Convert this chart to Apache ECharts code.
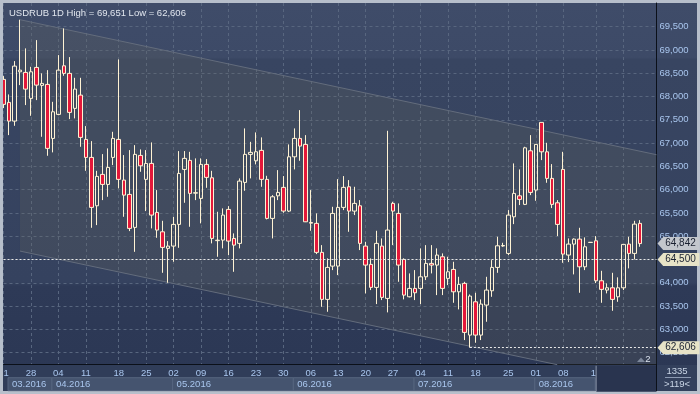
<!DOCTYPE html>
<html><head><meta charset="utf-8">
<script src="https://cdn.jsdelivr.net/npm/echarts@6/dist/echarts.min.js"></script>
<style>html,body{margin:0;padding:0;background:#b7bfcb}#c{width:700px;height:394px}</style>
</head><body><div id="c"></div>
<script>
// ---------- data ----------
const symbolName = 'USDRUB 1D';
const barCount = 120; // slots on the time axis (117 candles + right shift)
const bars = Array.from({length: barCount}, (_, i) => 'b' + i);

const opens = [68369,67875,67473,68532,68519,67961,68626,68240,68261,67101,67617,68661,68498,67746,68031,67080,66693,65654,66328,66113,
66693,67080,66206,65898,65190,66736,66221,66564,65512,65095,64739,64788,65254,66435,66629,65925,65812,66543,66255,64905,
64917,65576,64953,64846,66156,66758,66620,66844,66221,65383,65868,66049,65540,66706,67101,66972,65295,65276,64653,63643,
64358,64358,65619,66062,65540,65654,64788,64395,63901,64788,63664,65705,65490,64502,63699,63879,63879,64128,64416,64380,
64558,64094,64287,63806,63987,62876,63591,62876,63521,63828,64330,64790,64631,65417,65868,65684,66835,65991,67445,66813,
66242,65718,66435,64595,64831,64938,64343,64865,64902,64043,63843,63892,63699,63892,64831,64631,65276];
const closes = [67832,67473,68654,68568,68160,68532,68246,68283,66887,67673,68568,68498,67660,68160,67123,66693,65619,66285,66113,66478,
67101,66221,65883,65168,66758,66513,66564,65454,65132,64760,64788,65254,66349,66672,65920,65935,66543,66264,64953,64915,
65454,64895,64809,66184,66758,66801,66814,66221,65383,65847,65941,65540,66706,67101,66936,65310,65280,64653,63643,64330,
65490,65619,66049,65540,65705,64846,64380,63901,64846,63686,65132,65540,64380,63735,63879,63785,64128,64416,64380,64595,
63879,64236,63806,63965,62934,63714,62876,63542,63843,64330,64794,64800,65454,65920,65791,66899,65941,66972,66813,66242,
65684,65254,64616,64831,64938,64343,64773,64870,64043,63858,63892,63643,63892,64824,64631,65260,64842];
const lows = [67752,67172,67372,68246,67817,67587,67924,67136,66728,66801,67600,68446,67516,67531,66921,66405,65181,65239,65776,65847,
66528,66027,65417,65110,64665,66384,65540,65168,64966,64214,64000,64451,64751,65718,65203,65776,65276,66040,64846,64558,
64739,64595,64236,64739,65976,66242,66543,66062,65362,64953,65776,65503,65519,66435,66620,65304,65117,64616,63484,63377,
64272,64165,65561,65095,65454,64702,63772,63843,63542,63628,63364,64809,64021,63643,63686,63628,63542,64058,64201,63735,
63735,63950,63570,63428,62769,62606,62711,62769,63162,63699,64214,64773,64595,65260,65669,65669,65883,65761,66635,66148,
65604,65003,64429,64444,64180,63785,64272,64865,63993,63570,63772,63398,63591,63843,64309,64502,64773];
const highs = [68440,68046,68762,69651,69035,68639,69213,68498,68568,67887,68891,69464,68848,68403,68403,67366,67043,66405,66764,66887,
67243,68798,66743,66850,66957,66865,66850,67015,65991,65331,64895,65417,66829,66829,66813,66672,66672,66657,66405,65525,
65598,65647,65061,66242,67316,67028,67230,67123,66298,65883,66420,66292,66972,67316,67709,67172,65991,65490,64809,64524,
65632,66227,66292,66206,66062,65776,64880,64524,65117,64953,67265,65740,65705,64524,64201,64272,64739,64809,64809,64739,
64631,64558,64451,64128,64021,63750,63785,63643,64128,64487,64988,64859,65561,66564,66435,66921,67172,66979,67445,67007,
66549,65776,66813,64953,64953,65181,64975,64870,65003,64257,63987,64214,64116,64824,64988,65331,65346];

const highPrice = 69651, lowPrice = 62606, lowIndex = 85;
const levelPrice = 64500;
const lastPrice = 64842;

const yMin = 62240, yMax = 70010;
const yTicks = [62500,63000,63500,64000,64500,65000,65500,66000,66500,67000,67500,68000,68500,69000,69500];

const tickIndex  = [0,5,10,15,21,26,31,36,41,46,51,56,61,66,71,76,81,86,92,97,102,108,113];
const tickLabels = ['21','28','04','11','18','25','02','09','16','23','30','06','13','20','27','04','11','18','25','01','08','15','22'];

const monthLabels = ['03.2016','04.2016','05.2016','06.2016','07.2016','08.2016'];
const monthStart  = [1, 9, 31, 53, 75, 97];
const monthEnd    = [9, 31, 53, 75, 97, 108];
const shiftZone   = [108, 119];

// trend channel (bar index, price)
const channelX     = [3, 119];
const channelUpper = [69651, 66751];
const channelLower = [64681, 61789];

// ---------- helpers ----------
const FONT = '"Liberation Sans",Arial,sans-serif';
const FS = 9.5;
const fmt = v => String(Math.round(v)).replace(/\B(?=(\d{3})+(?!\d))/g, ',');
const tickMap = {};
tickIndex.forEach((t, k) => tickMap[t] = tickLabels[k]);
const isTick = idx => tickMap[idx] !== undefined;
const candles = opens.map((o, i) => [o, closes[i], lows[i], highs[i]]);

function clipPoly(pts, x0, y0, x1, y1) {
  const edges = [
    [p => p[0] >= x0, (a, b) => { const t = (x0 - a[0]) / (b[0] - a[0]); return [x0, a[1] + t * (b[1] - a[1])]; }],
    [p => p[0] <= x1, (a, b) => { const t = (x1 - a[0]) / (b[0] - a[0]); return [x1, a[1] + t * (b[1] - a[1])]; }],
    [p => p[1] >= y0, (a, b) => { const t = (y0 - a[1]) / (b[1] - a[1]); return [a[0] + t * (b[0] - a[0]), y0]; }],
    [p => p[1] <= y1, (a, b) => { const t = (y1 - a[1]) / (b[1] - a[1]); return [a[0] + t * (b[0] - a[0]), y1]; }]
  ];
  let out = pts;
  for (const [inside, inter] of edges) {
    const inp = out; out = [];
    for (let i = 0; i < inp.length; i++) {
      const cur = inp[i], prev = inp[(i + inp.length - 1) % inp.length];
      if (inside(cur)) { if (!inside(prev)) out.push(inter(prev, cur)); out.push(cur); }
      else if (inside(prev)) out.push(inter(prev, cur));
    }
  }
  return out;
}

const chart = echarts.init(document.getElementById('c'), null, {renderer: 'canvas', width: 700, height: 394});

const option = {
  animation: false,
  backgroundColor: '#b7bfcb',
  title: {
    text: symbolName + ' High = ' + fmt(highPrice) + ' Low = ' + fmt(lowPrice),
    left: 4, top: 3,
    textStyle: {color: '#e1e6ee', fontSize: FS, fontWeight: 'normal', fontFamily: FONT}
  },
  grid: {left: 3.5, top: 3, width: 653, height: 361.7, show: false, outerBoundsMode: 'none', containLabel: false},
  xAxis: {
    type: 'category', data: bars, boundaryGap: false,
    axisLine: {show: true, lineStyle: {color: '#0b1019', width: 1}},
    axisTick: {show: false},
    axisLabel: {
      interval: (idx) => isTick(idx),
      formatter: (v, idx) => tickMap[idx] || '',
      color: '#a9c6ee', fontSize: FS, fontFamily: FONT, margin: 3.5
    },
    splitLine: {show: true, interval: (idx) => isTick(idx), lineStyle: {color: '#58667f', type: [3, 3], width: 1}}
  },
  yAxis: {
    type: 'value', position: 'right', min: yMin, max: yMax, scale: true,
    axisLine: {show: true, lineStyle: {color: '#0b1019', width: 1}},
    axisTick: {show: false, customValues: yTicks},
    axisLabel: {customValues: yTicks, formatter: v => fmt(v), color: '#a9c6ee', fontSize: FS, fontFamily: FONT, margin: 3},
    splitLine: {show: true, lineStyle: {color: '#58667f', type: [3, 3], width: 1}}
  },
  graphic: [
    {type: 'rect', z: -100, silent: true, shape: {x: 3, y: 3, width: 694, height: 388},
     style: {fill: new echarts.graphic.LinearGradient(0, 0, 0, 1, [
        {offset: 0, color: '#3f4c69'}, {offset: 0.14, color: '#3d4a67'}, {offset: 0.145, color: '#384561'},
        {offset: 0.72, color: '#35425f'}, {offset: 0.73, color: '#2e3a57'}, {offset: 1, color: '#2b3754'}])}},
    {type: 'rect', z: -90, silent: true, shape: {x: 3, y: 365, width: 653, height: 26}, style: {fill: '#303d59'}},
    {type: 'rect', z: -90, silent: true, shape: {x: 657, y: 365, width: 40, height: 26}, style: {fill: '#33405c'}},
    {type: 'line', z: 50, silent: true, shape: {x1: 656.5, y1: 364, x2: 656.5, y2: 391}, style: {stroke: '#0b1019', lineWidth: 1}},
    {type: 'line', z: 50, silent: true, shape: {x1: 665, y1: 377.5, x2: 691, y2: 377.5}, style: {stroke: '#8c9ab2', lineWidth: 1}},
    {type: 'text', z: 50, silent: true, style: {text: '1335', x: 677, y: 371, align: 'center', verticalAlign: 'middle', fill: '#c9d5e6', font: FS + 'px ' + FONT}},
    {type: 'text', z: 50, silent: true, style: {text: '>119<', x: 677, y: 384.5, align: 'center', verticalAlign: 'middle', fill: '#c9d5e6', font: FS + 'px ' + FONT}},
    {type: 'polygon', z: 50, silent: true, shape: {points: [[637, 362], [641, 357.5], [645, 362]]}, style: {fill: '#7d889b'}},
    {type: 'text', z: 50, silent: true, style: {text: '2', x: 648, y: 359.5, align: 'center', verticalAlign: 'middle', fill: '#dbe3ee', font: FS + 'px ' + FONT}},
    {type: 'rect', z: 200, silent: true, shape: {x: 0, y: 0, width: 3, height: 394}, style: {fill: '#b7bfcb'}}
  ],
  series: [
    { // trend channel
      type: 'custom', z: 1, silent: true,
      data: [[channelX[0], channelUpper[0]]],
      renderItem: (params, api) => {
        const a = api.coord([channelX[0], channelUpper[0]]);
        const b = api.coord([channelX[1], channelUpper[1]]);
        const c = api.coord([channelX[1], channelLower[1]]);
        const d = api.coord([channelX[0], channelLower[0]]);
        const cs = params.coordSys;
        const x0 = cs.x, y0 = cs.y, x1 = cs.x + cs.width, y1 = cs.y + cs.height;
        const poly = clipPoly([a, b, c, d], x0, y0, x1, y1);
        let e = c;
        if (c[1] > y1) { const t = (y1 - d[1]) / (c[1] - d[1]); e = [d[0] + t * (c[0] - d[0]), y1]; }
        return {type: 'group', children: [
          {type: 'polygon', shape: {points: poly}, style: {fill: 'rgba(104,104,92,0.22)'}},
          {type: 'line', shape: {x1: a[0], y1: a[1], x2: b[0], y2: b[1]}, style: {stroke: '#636c7c', lineWidth: 1}},
          {type: 'line', shape: {x1: d[0], y1: d[1], x2: e[0], y2: e[1]}, style: {stroke: '#636c7c', lineWidth: 1}}
        ]};
      }
    },
    { // month boxes under the day labels
      type: 'custom', z: 5, silent: true,
      data: monthLabels.map((m, i) => [monthStart[i], yMin]).concat([[shiftZone[0], yMin]]),
      renderItem: (params, api) => {
        const i = params.dataIndex;
        const cs = params.coordSys;
        const base = cs.y + cs.height;
        if (i === monthLabels.length) {
          const xa = api.coord([shiftZone[0], yMin])[0], xb = api.coord([shiftZone[1], yMin])[0];
          return {type: 'group', children: [
            {type: 'rect', shape: {x: xa, y: base + 1, width: xb - xa, height: 26}, style: {fill: '#29344f'}},
            {type: 'line', shape: {x1: xa, y1: base + 1, x2: xa, y2: base + 27}, style: {stroke: '#8c97aa', lineWidth: 1}}
          ]};
        }
        const x0 = api.coord([monthStart[i], yMin])[0];
        const x1 = api.coord([monthEnd[i], yMin])[0];
        return {type: 'group', children: [
          {type: 'rect', shape: {x: x0 - 1, y: base + 13, width: x1 - x0, height: 13},
           style: {fill: '#45546f', stroke: '#56657f', lineWidth: 1}},
          {type: 'text', style: {text: monthLabels[i], x: x0 + 3, y: base + 20, align: 'left', verticalAlign: 'middle',
            fill: '#a9c6ee', font: FS + 'px ' + FONT}}
        ]};
      }
    },
    {
      type: 'candlestick', data: candles, z: 3, barWidth: 4, silent: true, clip: true,
      itemStyle: {color: 'rgba(0,0,0,0)', color0: '#e3183a', borderColor: '#fff3d4', borderColor0: '#fff3d4', borderWidth: 1}
    },
    { // price levels and tags
      type: 'line', data: [], z: 6, silent: true,
      markLine: {
        symbol: 'none', silent: true, label: {show: false},
        lineStyle: {color: '#e9e9e9', type: [2, 2], width: 1},
        data: [
          {yAxis: levelPrice},
          [{coord: [lowIndex, lowPrice]}, {coord: [barCount - 1, lowPrice]}]
        ]
      },
      markPoint: {
        symbol: 'path://M0,7L6,0L44,0L44,14L6,14Z',
        symbolSize: [42, 13], symbolKeepAspect: false, symbolOffset: [22, 0],
        label: {show: true, position: 'inside', offset: [2, 0], color: '#1a2131', fontSize: FS + 0.5, fontFamily: FONT,
          formatter: p => fmt(p.value)},
        data: [
          {coord: [barCount - 1, lastPrice], value: lastPrice, itemStyle: {color: '#c3c7cd'}},
          {coord: [barCount - 1, levelPrice], value: levelPrice, itemStyle: {color: '#e7e3c7'}},
          {coord: [barCount - 1, lowPrice], value: lowPrice, itemStyle: {color: '#e7e3c7'}}
        ]
      }
    }
  ]
};
chart.setOption(option);
</script></body></html>
